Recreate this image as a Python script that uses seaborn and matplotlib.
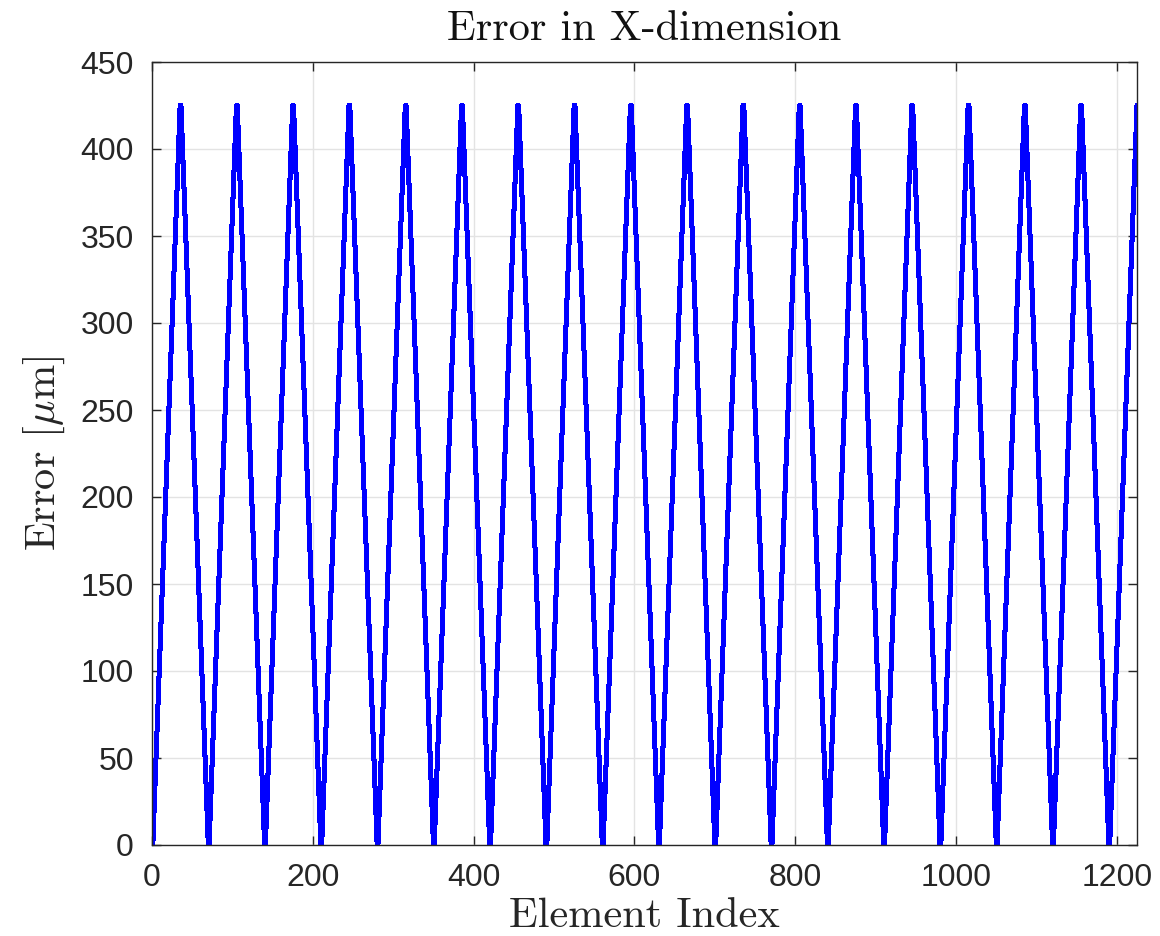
import numpy as np
import pandas as pd
import matplotlib
matplotlib.use("Agg")
import matplotlib.pyplot as plt
import seaborn as sns

# Error of one row of 35 elements, element by element [um]
row_error = [0.0, 12.5, 25.0, 37.5, 50.0, 62.5, 75.0, 87.5, 100.0, 112.5,
             125.0, 137.5, 150.0, 162.5, 175.0, 187.5, 200.0, 212.5, 225.0,
             237.5, 250.0, 262.5, 275.0, 287.5, 300.0, 312.5, 325.0, 337.5,
             350.0, 362.5, 375.0, 387.5, 400.0, 412.5, 425.0]
n_rows = 35

# Serpentine scan: even rows run forward, odd rows run backward
errors = []
for r in range(n_rows):
    errors.extend(row_error if r % 2 == 0 else row_error[::-1])
index = np.arange(1, len(errors) + 1)
df = pd.DataFrame({"Element Index": index, "Error": errors})

x_ticks = [0, 200, 400, 600, 800, 1000, 1200]
y_ticks = [0, 50, 100, 150, 200, 250, 300, 350, 400, 450]

sns.set_style("ticks")
plt.rcParams["mathtext.fontset"] = "cm"
plt.rcParams["font.family"] = ["Liberation Sans", "DejaVu Sans"]

fig = plt.figure(figsize=(11.6, 9.36), dpi=100)
ax = fig.add_axes([152 / 1160, 1 - 845 / 936, (1137 - 152) / 1160, (845 - 62) / 936])

sns.lineplot(data=df, x="Element Index", y="Error", ax=ax, color=(0, 0, 1),
             linewidth=2.9, antialiased=False)

ax.set_xlim(0, 1225)
ax.set_ylim(0, 450)
ax.set_xticks(x_ticks)
ax.set_yticks(y_ticks)
ax.grid(True, color="#e3e3e3", linewidth=1.0)
ax.set_axisbelow(True)

for side in ["top", "bottom", "left", "right"]:
    ax.spines[side].set_visible(True)
    ax.spines[side].set_color("#262626")
    ax.spines[side].set_linewidth(1.0)

ax.tick_params(direction="in", length=6.5, width=1.0, top=True, right=True,
               colors="#262626", labelsize=23, pad=13)

ax.set_title("Error in X-dimension", fontsize=30.5, family="cmr10", color="#111111", pad=16)
ax.set_xlabel("Element Index", fontsize=30.5, family="cmr10", color="#262626", labelpad=3)
ax.set_ylabel(r"Error [$\mu$m]", fontsize=30.5, family="cmr10", color="#262626", labelpad=10)

fig.savefig("out.png", dpi=100)
